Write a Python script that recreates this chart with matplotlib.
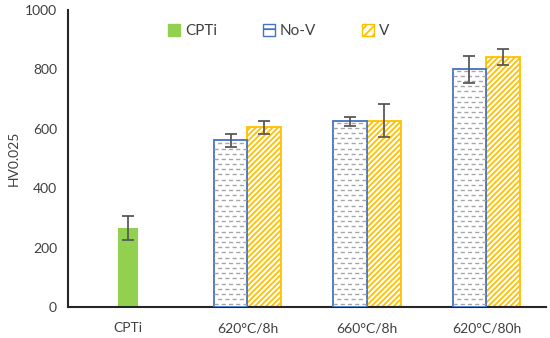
import numpy as np
import matplotlib.pyplot as plt
from matplotlib.patches import Patch

### data ----
categories = ['CPTi', '620°C/8h', '660°C/8h', '620°C/80h']
cpti_val = [265]
cpti_err = [40]
nov_val = [562, 625, 800]
nov_err = [22, 15, 45]
v_val = [605, 628, 843]
v_err = [22, 55, 27]

plt.rcParams['font.family'] = ['Lato', 'DejaVu Sans']
plt.rcParams['hatch.linewidth'] = 1.3

fig = plt.figure(figsize=(5.5, 3.38), dpi=100)
ax = fig.add_axes([0.124, 0.092, 0.869, 0.878])

x = np.arange(len(categories))
w = 0.283
ekw = dict(ecolor='#595959', elinewidth=1.3, capsize=4, capthick=1.3)

## CPTi
ax.bar(x[:1], cpti_val, width=0.17, color='#92D050', label='CPTi',
       yerr=cpti_err, error_kw=ekw, zorder=2)

## No-V: white bars with staggered rows of gray dashes + blue outline
xg = x[1:]
bars = ax.bar(xg - w / 2, nov_val, width=w, facecolor='white',
              edgecolor='#4472C4', linewidth=1.3, zorder=3)
ax.errorbar(xg - w / 2, nov_val, yerr=nov_err, fmt='none', zorder=4, **ekw)
step = 17.5
for b in bars:
  rows = np.arange(step / 2, b.get_height(), step)
  for i, yy in enumerate(rows):
    ln, = ax.plot([b.get_x(), b.get_x() + b.get_width()], [yy, yy],
                  color='#A6A6A6', lw=1.0, zorder=3.5)
    ln.set_linestyle((2.6 * (i % 2), (3, 2.2)))
    ln.set_clip_path(b)

## V: orange stripes
ax.bar(xg + w / 2, v_val, width=w, facecolor='white', edgecolor='#FFC000',
       hatch='//////', linewidth=1.3, zorder=2)
ax.errorbar(xg + w / 2, v_val, yerr=v_err, fmt='none', zorder=4, **ekw)

## legend proxies
handles = [Patch(facecolor='#92D050', edgecolor='#92D050', label='CPTi'),
           Patch(facecolor='white', edgecolor='#4472C4', hatch='--', label='No-V'),
           Patch(facecolor='white', edgecolor='#FFC000', hatch='////', label='V')]
ax.legend(handles=handles, loc='upper center', bbox_to_anchor=(0.44, 1.0),
          ncol=3, frameon=False, fontsize=11, handlelength=0.8,
          handleheight=0.8, columnspacing=3.0, handletextpad=0.3,
          labelcolor='#404040')

ax.set_xlim(-0.5, 3.5)
ax.set_ylim(0, 1000)
ax.set_yticks(range(0, 1001, 200))
ax.set_xticks(x)
ax.set_xticklabels(categories)
ax.tick_params(length=0, labelsize=10, colors='#404040')
ax.tick_params(axis='x', pad=11)
ax.tick_params(axis='y', pad=8)
ax.set_ylabel('HV0.025', fontsize=10, color='#404040')
for s in ['top', 'right']:
  ax.spines[s].set_visible(False)
for s in ['left', 'bottom']:
  ax.spines[s].set_linewidth(1.5)
  ax.spines[s].set_color('#262626')

fig.savefig('out.png', dpi=100)
